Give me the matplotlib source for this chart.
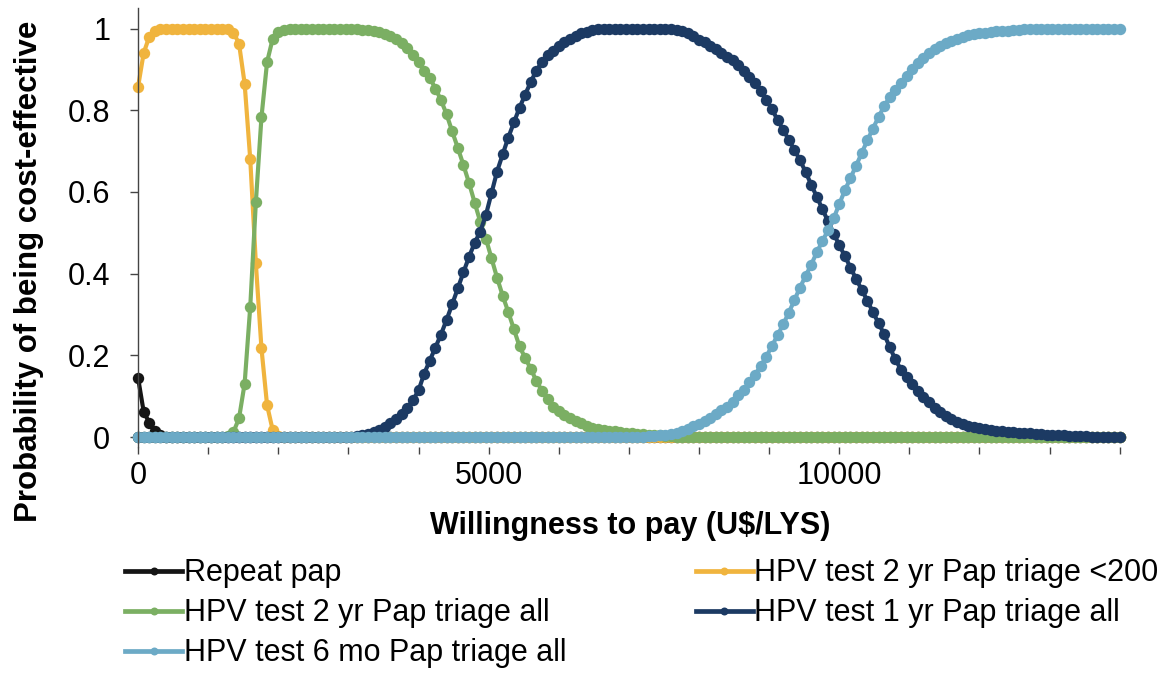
import numpy as np
import matplotlib
matplotlib.use("Agg")
import matplotlib.pyplot as plt
from matplotlib.ticker import MultipleLocator

plt.rcParams['font.family'] = ['Liberation Sans', 'DejaVu Sans']

# Willingness-to-pay grid (U$/LYS), one point every 80
wtp = np.arange(0, 14001, 80)

labels = ["Repeat pap",
          "HPV test 2 yr Pap triage <200",
          "HPV test 2 yr Pap triage all",
          "HPV test 1 yr Pap triage all",
          "HPV test 6 mo Pap triage all"]

repeat_pap = [0.145, 0.062, 0.035, 0.015, 0.005] + [0.0] * 171

hpv2_lt200 = ([0.857, 0.94, 0.98, 0.995] + [1.0] * 13 +
              [0.99, 0.963, 0.865, 0.68, 0.425, 0.217, 0.078, 0.017, 0.003] +
              [0.0] * 150)

hpv2_all = ([0.0] * 16 +
            [0.003, 0.012, 0.046, 0.131, 0.319, 0.575, 0.783, 0.918, 0.975, 0.992, 0.997] +
            [0.999] + [1.0] * 10 +
            [0.999, 0.998, 0.997, 0.996, 0.994, 0.991, 0.986, 0.981, 0.974, 0.965,
             0.952, 0.935, 0.917, 0.897, 0.88, 0.853, 0.825, 0.79, 0.748, 0.708,
             0.666, 0.622, 0.574, 0.527, 0.486, 0.438, 0.39, 0.346, 0.306, 0.264,
             0.222, 0.194, 0.167, 0.138, 0.113, 0.093, 0.074, 0.063, 0.053, 0.046,
             0.04, 0.034, 0.028, 0.023, 0.02, 0.018, 0.016, 0.014, 0.012, 0.01,
             0.009, 0.008, 0.007, 0.006, 0.005, 0.004, 0.003, 0.002, 0.001] +
            [0.0] * 79)

hpv1_all = ([0.0] * 38 +
            [0.001, 0.003, 0.005, 0.008, 0.012, 0.017, 0.025, 0.035, 0.044, 0.056,
             0.072, 0.09, 0.114, 0.155, 0.187, 0.219, 0.251, 0.287, 0.325, 0.364,
             0.403, 0.441, 0.475, 0.503, 0.543, 0.597, 0.65, 0.692, 0.733, 0.77,
             0.806, 0.838, 0.869, 0.897, 0.918, 0.934, 0.946, 0.957, 0.967, 0.975,
             0.982, 0.988, 0.992, 0.996, 0.998, 0.999] +
            [1.0] * 11 +
            [0.999, 0.997, 0.994, 0.989, 0.982, 0.973, 0.966, 0.958, 0.949, 0.94,
             0.931, 0.923, 0.911, 0.897, 0.882, 0.866, 0.847, 0.826, 0.802, 0.777,
             0.752, 0.728, 0.703, 0.678, 0.649, 0.618, 0.588, 0.558, 0.528, 0.498,
             0.47, 0.443, 0.415, 0.387, 0.361, 0.334, 0.306, 0.279, 0.252, 0.22,
             0.19, 0.165, 0.146, 0.129, 0.113, 0.098, 0.085, 0.071, 0.061, 0.052,
             0.044, 0.037, 0.032, 0.028, 0.024, 0.021, 0.019, 0.017, 0.016, 0.014,
             0.013, 0.012, 0.011, 0.01, 0.009, 0.008, 0.007, 0.006, 0.005, 0.004,
             0.004, 0.003, 0.003, 0.002, 0.002, 0.001, 0.001] +
            [0.0] * 4)

hpv6mo_all = ([0.0] * 89 +
              [0.001, 0.001, 0.002, 0.003, 0.004, 0.005, 0.007, 0.011, 0.015, 0.02,
               0.026, 0.032, 0.039, 0.047, 0.056, 0.065, 0.074, 0.087, 0.102, 0.116,
               0.134, 0.153, 0.174, 0.197, 0.223, 0.249, 0.276, 0.304, 0.335, 0.366,
               0.394, 0.422, 0.452, 0.48, 0.506, 0.535, 0.57, 0.604, 0.634, 0.664,
               0.695, 0.726, 0.755, 0.783, 0.81, 0.832, 0.85, 0.867, 0.884, 0.901,
               0.916, 0.928, 0.939, 0.949, 0.957, 0.964, 0.97, 0.975, 0.98, 0.983,
               0.986, 0.988, 0.99, 0.991, 0.993, 0.994, 0.995, 0.996, 0.997, 0.998,
               0.999] +
              [1.0] * 16)

series = [repeat_pap, hpv2_lt200, hpv2_all, hpv1_all, hpv6mo_all]
colors = ["#151515", "#F0B43E", "#7BAF63", "#1C3A63", "#6CAAC6"]

x_ticks = [0, 5000, 10000]
y_ticks = [0, 0.2, 0.4, 0.6, 0.8, 1]
y_tick_labels = ["0", "0.2", "0.4", "0.6", "0.8", "1"]

fig = plt.figure(figsize=(11.7, 6.75), dpi=100)
ax = fig.add_axes([0.118, 0.338, 0.857, 0.650])

handles = []
for vals, col, lab in zip(series, colors, labels):
    h, = ax.plot(wtp, vals, color=col, lw=3.0, marker='o', markersize=8.2,
                 markeredgewidth=0, label=lab, clip_on=False)
    handles.append(h)

ax.set_xlim(0, 14300)
ax.set_ylim(-0.024, 1.05)
ax.set_xticks(x_ticks)
ax.xaxis.set_minor_locator(MultipleLocator(1000))
ax.set_yticks(y_ticks)
ax.set_yticklabels(y_tick_labels)

for s in ['top', 'right', 'bottom']:
    ax.spines[s].set_visible(False)
ax.spines['left'].set_color('#444444')
ax.spines['left'].set_linewidth(1.0)
ax.tick_params(axis='y', labelsize=22, length=6, width=1, color='#444444', pad=14)
ax.tick_params(axis='x', which='major', labelsize=22, length=5, width=1,
               color='#444444', pad=5)
ax.tick_params(axis='x', which='minor', length=5, width=1, color='#444444')

ax.set_xlabel("Willingness to pay (U$/LYS)", fontsize=22, fontweight='bold')
ax.xaxis.label.set_va('center')
ax.xaxis.set_label_coords(0.491, -0.18)
ax.set_ylabel("Probability of being cost-effective", fontsize=22.5, fontweight='bold')
ax.yaxis.label.set_va('center')
ax.yaxis.set_label_coords(-0.109, 0.40)

order = [0, 2, 4, 1, 3]
leg = fig.legend([handles[i] for i in order], [labels[i] for i in order],
                 ncol=2, loc='upper left', bbox_to_anchor=(0.107, 0.173),
                 frameon=False, fontsize=22, handlelength=1.86, handletextpad=0.05,
                 columnspacing=4.25, labelspacing=0.33, markerscale=0.7,
                 borderaxespad=0, borderpad=0)
for lh in leg.legend_handles:
    lh.set_linewidth(3.4)

fig.savefig("out.png", dpi=100, facecolor='white')
